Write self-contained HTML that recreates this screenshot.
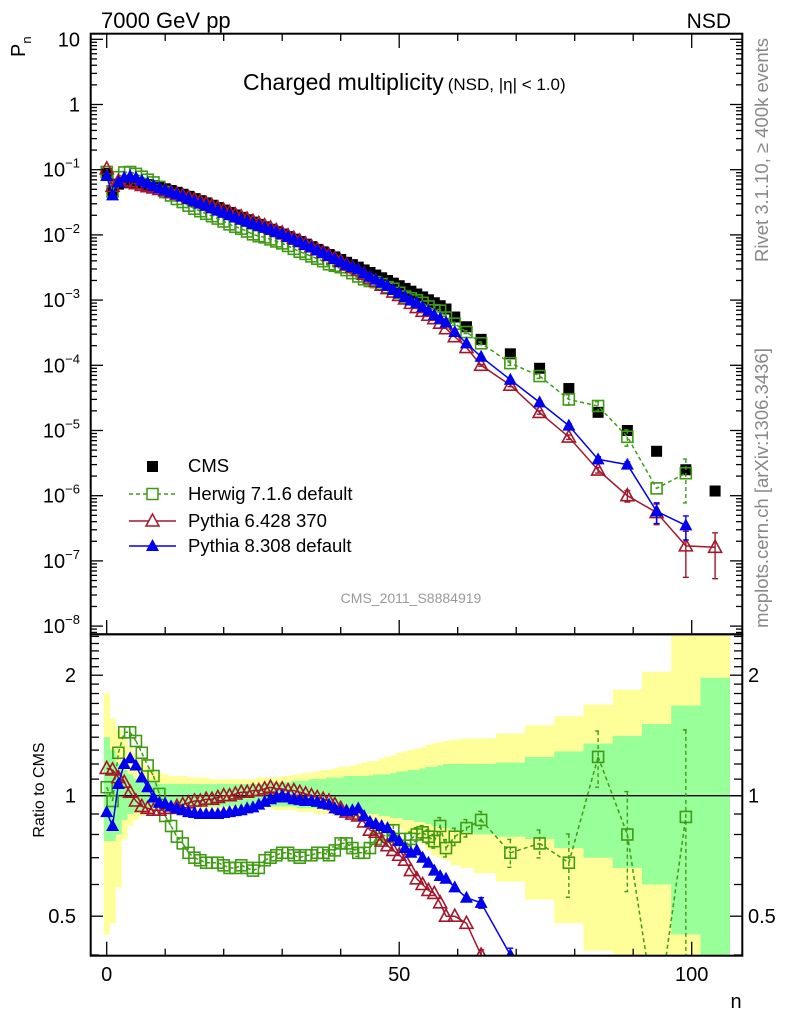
<!DOCTYPE html>
<html><head><meta charset="utf-8"><style>
html,body{margin:0;padding:0;background:#fff;width:786px;height:1024px;overflow:hidden;}
svg{display:block;font-family:"Liberation Sans",sans-serif;}
</style></head><body>
<svg id="chart" width="786" height="1024" viewBox="0 0 786 1024" xmlns="http://www.w3.org/2000/svg">
<defs>
<clipPath id="clipTop"><rect x="91" y="34" width="651" height="600"/></clipPath>
<clipPath id="clipRat"><rect x="91" y="634" width="651" height="321.5"/></clipPath>
</defs>
<g id="bands" clip-path="url(#clipRat)"></g>
<line x1="91" y1="795.7" x2="742" y2="795.7" stroke="#000" stroke-width="1.3"/>
<g id="topData" clip-path="url(#clipTop)"></g>
<g id="ratData" clip-path="url(#clipRat)"></g>
<g id="axes"></g>
<rect x="90.7" y="33.7" width="651.6" height="600.6" fill="none" stroke="#000" stroke-width="2"/>
<rect x="90.7" y="634.3" width="651.6" height="321.4" fill="none" stroke="#000" stroke-width="2"/>

<text x="101" y="28" font-size="22">7000 GeV pp</text>
<text x="731" y="28" font-size="21" text-anchor="end">NSD</text>
<text transform="translate(25,57) rotate(-90)" font-size="20">P<tspan font-size="13" dy="6">n</tspan></text>
<text x="243" y="90" font-size="23">Charged multiplicity<tspan font-size="17" dx="4">(NSD, |η| &lt; 1.0)</tspan></text>
<text transform="translate(768,150) rotate(-90)" font-size="18.5" fill="#888" text-anchor="middle">Rivet 3.1.10, ≥ 400k events</text>
<text transform="translate(768,488) rotate(-90)" font-size="18.5" fill="#888" text-anchor="middle">mcplots.cern.ch [arXiv:1306.3436]</text>
<text x="411" y="603" font-size="14" fill="#999" text-anchor="middle">CMS_2011_S8884919</text>
<text transform="translate(44,790) rotate(-90)" font-size="16" text-anchor="middle">Ratio to CMS</text>
<text x="736" y="1008" font-size="20" text-anchor="middle">n</text>

<g id="legend">
<g><rect x="147" y="461" width="11" height="11" fill="#000"/><text x="188" y="472" font-size="18.5">CMS</text></g>
<g><line x1="129" y1="494" x2="176" y2="494" stroke="#3f9a14" stroke-width="1.5" stroke-dasharray="4,3"/><rect x="147" y="488.5" width="11" height="11" fill="#fff" stroke="#3f9a14" stroke-width="1.5"/><text x="188" y="500" font-size="18.5">Herwig 7.1.6 default</text></g>
<g><line x1="129" y1="521" x2="176" y2="521" stroke="#a3172b" stroke-width="1.5"/><polygon points="152.5,514 159,526 146,526" fill="#fff" stroke="#a3172b" stroke-width="1.5"/><text x="188" y="527" font-size="18.5">Pythia 6.428 370</text></g>
<g><line x1="129" y1="546" x2="176" y2="546" stroke="#0000ee" stroke-width="1.5"/><polygon points="152.5,539 159,551 146,551" fill="#0000ee"/><text x="188" y="552" font-size="18.5">Pythia 8.308 default</text></g>
</g>
</svg>
<script>
// ---- data ----
const nBins = [0,1,2,3,4,5,6,7,8,9,10,11,12,13,14,15,16,17,18,19,20,21,22,23,24,25,26,27,28,29,30,31,32,33,34,35,36,37,38,39,40,41,42,43,44,45,46,47,48,49,50,51,52,53,54,55,56,57,58,59.5,61.5,64,69,74,79,84,89,94,99,104];
const cmsValues = [0.088,0.048,0.060,0.063,0.064,0.063,0.061,0.059,0.057,0.054,0.051,0.048,0.045,0.042,0.039,0.036,0.0335,0.031,0.0285,0.0262,0.0240,0.0220,0.0202,0.0186,0.0171,0.0157,0.0145,0.0133,0.0122,0.0112,0.0103,0.0094,0.0086,0.0079,0.0072,0.0066,0.0060,0.0055,0.0050,0.0046,0.0042,0.0038,0.0035,0.0032,0.0029,0.00265,0.00242,0.00220,0.00200,0.00182,0.00166,0.00151,0.00137,0.00124,0.00112,0.00101,0.00091,0.00082,0.00073,0.00055,0.00039,0.00025,0.000150,0.000090,0.000044,0.000019,0.0000100,0.0000048,0.0000025,0.00000118];
const herwigRatio = [1.05,0.97,1.28,1.44,1.44,1.37,1.28,1.19,1.12,1.01,0.89,0.84,0.79,0.76,0.72,0.70,0.69,0.68,0.68,0.68,0.67,0.66,0.66,0.67,0.66,0.65,0.66,0.69,0.70,0.71,0.72,0.72,0.71,0.70,0.71,0.71,0.72,0.72,0.71,0.73,0.76,0.76,0.74,0.72,0.72,0.74,0.78,0.80,0.79,0.82,0.78,0.75,0.78,0.80,0.81,0.79,0.77,0.84,0.74,0.79,0.83,0.87,0.72,0.76,0.68,1.25,0.80,0.27,0.885,null];
const pythia6Ratio = [1.17,1.16,1.11,1.08,1.02,0.97,0.94,0.93,0.92,0.92,0.93,0.93,0.94,0.95,0.96,0.97,0.97,0.98,0.98,0.99,1.00,1.00,1.01,1.02,1.02,1.03,1.03,1.04,1.05,1.04,1.04,1.03,1.03,1.02,1.01,1.00,0.99,0.98,0.97,0.95,0.93,0.91,0.90,0.89,0.86,0.82,0.81,0.77,0.75,0.73,0.71,0.69,0.65,0.62,0.60,0.58,0.57,0.54,0.50,0.50,0.48,0.40,0.33,0.21,0.18,0.13,0.10,0.115,0.068,0.137];
const pythia8Ratio = [0.91,0.84,1.07,1.20,1.24,1.19,1.11,1.05,0.99,0.96,0.955,0.94,0.93,0.92,0.91,0.905,0.90,0.90,0.90,0.90,0.905,0.91,0.915,0.92,0.93,0.935,0.95,0.965,0.98,0.99,1.00,0.99,0.98,0.975,0.97,0.97,0.965,0.955,0.95,0.93,0.92,0.915,0.92,0.93,0.89,0.86,0.85,0.84,0.83,0.79,0.77,0.74,0.72,0.73,0.70,0.68,0.65,0.63,0.62,0.59,0.556,0.54,0.40,0.30,0.27,0.19,0.30,0.12,0.14,null];
const herwigErr = [0,0,0,0,0,0,0,0,0,0,0,0,0,0,0,0,0,0,0,0,0,0,0,0,0,0,0,0,0,0,0,0,0,0,0,0,0,0,0.02,0.02,0.02,0.02,0.02,0.02,0.03,0.03,0.03,0.03,0.03,0.03,0.03,0.03,0.04,0.04,0.04,0.04,0.04,0.05,0.05,0.05,0.05,0.05,0.08,0.08,0.18,0.16,0.28,0,0.65,0];
const pythia6Err = [0,0,0,0,0,0,0,0,0,0,0,0,0,0,0,0,0,0,0,0,0,0,0,0,0,0,0,0,0,0,0,0,0,0,0,0,0,0,0,0,0,0,0,0,0,0,0,0,0,0,0,0,0,0,0,0,0,0,0,0,0,0.03,0.05,0.06,0.08,0.1,0.2,0.35,0.67,0.67];
const pythia8Err = [0,0,0,0,0,0,0,0,0,0,0,0,0,0,0,0,0,0,0,0,0,0,0,0,0,0,0,0,0,0,0,0,0,0,0,0,0,0,0,0,0,0,0,0,0,0,0,0,0,0,0,0,0,0,0,0,0,0,0,0,0,0.03,0.04,0.05,0.06,0.1,0.1,0.35,0.4,0];
const bandGreenHi = [1.40,1.30,1.20,1.16,1.13,1.10,1.09,1.08,1.08,1.07,1.07,1.07,1.07,1.07,1.07,1.07,1.07,1.07,1.07,1.07,1.07,1.07,1.07,1.07,1.07,1.07,1.07,1.07,1.08,1.08,1.08,1.08,1.09,1.09,1.09,1.10,1.10,1.10,1.11,1.11,1.11,1.12,1.12,1.12,1.12,1.12,1.13,1.13,1.13,1.14,1.15,1.15,1.16,1.16,1.17,1.18,1.18,1.19,1.20,1.20,1.20,1.20,1.21,1.25,1.29,1.35,1.41,1.51,1.68,1.97];
const bandGreenLo = [0.77,0.77,0.80,0.87,0.90,0.91,0.92,0.93,0.93,0.94,0.94,0.94,0.94,0.94,0.94,0.94,0.94,0.94,0.94,0.94,0.94,0.94,0.94,0.94,0.94,0.94,0.94,0.94,0.94,0.94,0.94,0.94,0.94,0.93,0.93,0.93,0.93,0.93,0.92,0.92,0.92,0.92,0.91,0.91,0.91,0.90,0.90,0.89,0.89,0.88,0.88,0.87,0.87,0.86,0.86,0.85,0.84,0.83,0.83,0.82,0.81,0.80,0.79,0.78,0.74,0.70,0.66,0.60,0.45,0.30];
const bandYellowHi = [1.80,1.56,1.47,1.39,1.32,1.27,1.22,1.18,1.15,1.14,1.13,1.12,1.12,1.12,1.11,1.11,1.11,1.11,1.10,1.10,1.10,1.10,1.10,1.10,1.10,1.10,1.11,1.11,1.11,1.11,1.12,1.12,1.13,1.13,1.14,1.14,1.15,1.16,1.16,1.17,1.18,1.18,1.19,1.20,1.21,1.22,1.22,1.24,1.25,1.26,1.28,1.29,1.30,1.31,1.32,1.34,1.35,1.36,1.37,1.38,1.39,1.39,1.43,1.50,1.58,1.69,1.84,2.04,3.0,3.0];
const bandYellowLo = [0.45,0.48,0.59,0.78,0.84,0.87,0.89,0.90,0.91,0.92,0.92,0.92,0.92,0.93,0.93,0.93,0.93,0.93,0.93,0.93,0.93,0.93,0.93,0.93,0.93,0.93,0.93,0.93,0.93,0.92,0.92,0.92,0.92,0.91,0.91,0.91,0.90,0.90,0.90,0.89,0.89,0.89,0.88,0.88,0.88,0.87,0.87,0.86,0.85,0.84,0.83,0.81,0.80,0.79,0.76,0.73,0.71,0.70,0.69,0.67,0.66,0.64,0.61,0.55,0.48,0.41,0.30,0.30,0.30,0.30];
const topTickExps = [1,0,-1,-2,-3,-4,-5,-6,-7,-8];
const ratioTickLabels = [0.5,1,2];
const xTickLabels = [0,50,100];

// ---- scales ----
const NS='http://www.w3.org/2000/svg';
const RAT_TOP=634, RAT_BOT=955.7;
function X(n){return 106.7+5.85*n;}
function YT(v){return 39.3+(1-Math.log10(v))*65.2;}
function YR(r){return 795.7-120.5*Math.log2(r);}
function mk(tag,attrs,parent){const e=document.createElementNS(NS,tag);for(const k in attrs)e.setAttribute(k,attrs[k]);parent.appendChild(e);return e;}

const edges=[];
for(let i=0;i<=nBins.length;i++){
  if(i===0)edges.push(nBins[0]-0.5);
  else if(i===nBins.length)edges.push(nBins[i-1]+2.5);
  else edges.push((nBins[i-1]+nBins[i])/2);
}

const bands=document.getElementById('bands');
function drawBand(lo,hi,color,name){
  for(let i=0;i<nBins.length;i++){
    const y1=Math.max(YR(hi[i]),RAT_TOP),y2=Math.min(YR(lo[i]),RAT_BOT);
    const r=mk('rect',{x:X(edges[i]),y:y1,width:X(edges[i+1])-X(edges[i])+0.3,height:Math.max(0,y2-y1),fill:color},bands);
    
    
  }
}
drawBand(bandYellowLo,bandYellowHi,'#ffff99','band-2sigma');
drawBand(bandGreenLo,bandGreenHi,'#99ff99','band-1sigma');

function marker(g,type,x,y,color,name){
  let e;
  if(type==='fsq'){e=mk('rect',{x:x-5.5,y:y-5.5,width:11,height:11,fill:'#000'},g);}
  else if(type==='osq'){e=mk('rect',{x:x-5.5,y:y-5.5,width:11,height:11,fill:'none',stroke:color,'stroke-width':1.6},g);}
  else if(type==='otri'){e=mk('polygon',{points:`${x},${y-7} ${x+6.5},${y+5} ${x-6.5},${y+5}`,fill:'none',stroke:color,'stroke-width':1.6},g);}
  else {e=mk('polygon',{points:`${x},${y-7} ${x+6.5},${y+5} ${x-6.5},${y+5}`,fill:color},g);}
  
  
}
const topG=document.getElementById('topData');
const ratG=document.getElementById('ratData');

// clip a segment to y range [a,b]
function clipSeg(p,q,a,b){
  let [x1,y1]=p,[x2,y2]=q;
  if((y1<a&&y2<a)||(y1>b&&y2>b))return null;
  const at=(y)=>x1+(x2-x1)*(y-y1)/(y2-y1);
  if(y1<a){x1=at(a);} if(y1>b){x1=at(b);}
  const ny1=Math.min(Math.max(y1,a),b);
  let nx2=x2,ny2=y2;
  if(y2<a){nx2=x1===p[0]?p[0]+(q[0]-p[0])*(a-p[1])/(q[1]-p[1]):p[0]+(q[0]-p[0])*(a-p[1])/(q[1]-p[1]);ny2=a;}
  if(y2>b){nx2=p[0]+(q[0]-p[0])*(b-p[1])/(q[1]-p[1]);ny2=b;}
  return [x1,ny1,nx2,ny2];
}

function drawSeries(ratios,errs,color,type,dash,name,withLine){
  const gt=mk('g',{},topG);
  
  
  const gr=mk('g',{},ratG);
  
  
  const ptsT=[],ptsR=[];
  for(let i=0;i<nBins.length;i++){
    if(ratios[i]==null)continue;
    const v=cmsValues[i]*ratios[i];
    ptsT.push([X(nBins[i]),YT(v),v,i]);ptsR.push([X(nBins[i]),YR(ratios[i]),ratios[i],i]);
  }
  if(withLine){
    const l1=mk('polyline',{points:ptsT.map(p=>p[0]+','+p[1]).join(' '),fill:'none',stroke:color,'stroke-width':1.5,'stroke-dasharray':dash},gt);
    
    
    let d='';
    for(let k=0;k<ptsR.length-1;k++){
      const s=clipSeg(ptsR[k],ptsR[k+1],RAT_TOP,RAT_BOT);
      if(s)d+=`M${s[0].toFixed(2)},${s[1].toFixed(2)}L${s[2].toFixed(2)},${s[3].toFixed(2)}`;
    }
    const l2=mk('path',{d:d,fill:'none',stroke:color,'stroke-width':1.5,'stroke-dasharray':dash},gr);
    
    
  }
  const drawErr=(g,p,yf,lim)=>{
    const e=errs?errs[p[3]]:0; if(!e)return;
    const lo=Math.max(p[2]*(1-e),p[2]*0.05),hi=p[2]*(1+e);
    let ya=yf(hi),yb=yf(lo);
    if(lim){ if(ya>lim[1]||yb<lim[0])return; const capA=ya>=lim[0],capB=yb<=lim[1];
      ya=Math.max(ya,lim[0]);yb=Math.min(yb,lim[1]);
      const eb=mk('path',{d:`M${p[0]},${ya}V${yb}`+(capA?`M${p[0]-3},${ya}h6`:'')+(capB?`M${p[0]-3},${yb}h6`:''),stroke:color,'stroke-width':1.4,fill:'none','stroke-dasharray':dash},g);
      
      
      return;}
    const eb=mk('path',{d:`M${p[0]},${ya}V${yb}M${p[0]-3},${ya}h6M${p[0]-3},${yb}h6`,stroke:color,'stroke-width':1.4,fill:'none','stroke-dasharray':dash},g);
    
    
  };
  ptsT.forEach(p=>{drawErr(gt,p,YT,null);marker(gt,type,p[0],p[1],color,name+'-point');});
  if(withLine)ptsR.forEach(p=>{drawErr(gr,p,YR,[RAT_TOP,RAT_BOT]);if(p[1]<RAT_BOT+7&&p[1]>RAT_TOP-7)marker(gr,type,p[0],p[1],color,name+'-ratio-point');});
}
const cmsOnes=nBins.map(()=>1);
drawSeries(cmsOnes,null,'#000','fsq','','cms',false);
drawSeries(herwigRatio,herwigErr,'#3f9a14','osq','4,3','herwig',true);
drawSeries(pythia6Ratio,pythia6Err,'#a3172b','otri','','pythia6',true);
drawSeries(pythia8Ratio,pythia8Err,'#0000ee','ftri','','pythia8',true);

const ax=document.getElementById('axes');
function tick(x1,y1,x2,y2,name){const t=mk('line',{x1,y1,x2,y2,stroke:'#000','stroke-width':1.3},ax);}
topTickExps.forEach(e=>{
  const y=YT(Math.pow(10,e));
  tick(91,y,103,y,'y-major-tick');tick(742,y,730,y,'y-major-tick');
  for(let m=2;m<=9;m++){const v=m*Math.pow(10,e-1);const ym=YT(v);if(ym<35||ym>633)continue;tick(91,ym,97,ym,'y-minor-tick');tick(742,ym,736,ym,'y-minor-tick');}
  const t=mk('text',{x:80,y:y+7,'font-size':20,'text-anchor':'end'},ax);
  
  
  if(e===1)t.textContent='10';else if(e===0)t.textContent='1';
  else{t.textContent='10';const s=mk('tspan',{'font-size':13,dy:-9},t);s.textContent='\u2212'+(-e);}
});
for(let n=-2;n<=108;n+=2){
  if(n%10===0){const big=n%50===0;const L=big?14:7;const x=X(n);
    tick(x,34,x,34+L,'x-tick');tick(x,634,x,634-L,'x-tick');tick(x,955.7,x,955.7-L,'x-tick');}
}
const ratioMinor=[0.4,0.6,0.7,0.8,0.9,1.1,1.2,1.3,1.4,1.5,1.6,1.7,1.8,1.9,2.1,2.2,2.3,2.4,2.5];
ratioMinor.forEach(r=>{const y=YR(r);tick(91,y,99,y,'ratio-minor-tick');tick(742,y,734,y,'ratio-minor-tick');});
ratioTickLabels.forEach(r=>{const y=YR(r);tick(91,y,103,y,'ratio-major-tick');tick(742,y,730,y,'ratio-major-tick');
  const t=mk('text',{x:76,y:y+7,'font-size':20,'text-anchor':'end'},ax);t.textContent=String(r);
  
  
  const t2=mk('text',{x:748,y:y+7,'font-size':20},ax);t2.textContent=String(r);
  
  
});
xTickLabels.forEach(n=>{const t=mk('text',{x:X(n),y:981,'font-size':20,'text-anchor':'middle'},ax);t.textContent=String(n);
  
  });
</script>
</body></html>
